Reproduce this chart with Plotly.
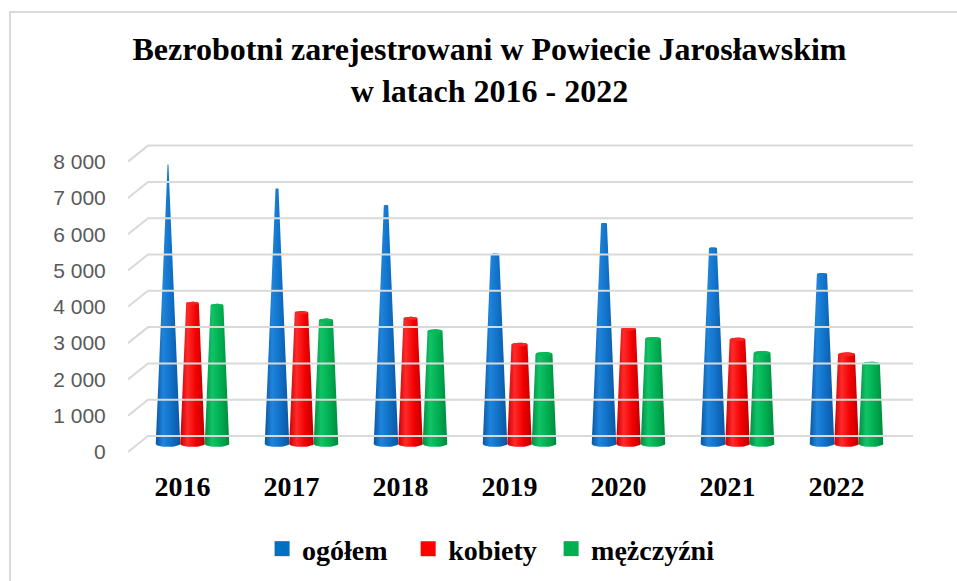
import numpy as np
import plotly.graph_objects as go

# ---------------- data ----------------
years = ["2016", "2017", "2018", "2019", "2020", "2021", "2022"]
ogolem = [7700, 7030, 6570, 5220, 6070, 5390, 4680]
kobiety = [3880, 3620, 3460, 2740, 3170, 2880, 2470]
mezczyzni = [3820, 3410, 3110, 2480, 2900, 2510, 2210]
tick_values = [0, 1000, 2000, 3000, 4000, 5000, 6000, 7000, 8000]
tick_labels = ["0", "1 000", "2 000", "3 000", "4 000", "5 000", "6 000", "7 000", "8 000"]
series_names = ["og\u00f3\u0142em", "kobiety", "m\u0119\u017cczy\u017ani"]

# ---------------- styling ----------------
AXMAX = 8000.0
W = 0.2248                       # bar base width (category units)
X_RANGE = [-0.5917, 6.6101]      # middle-depth frame
Y_RANGE = [-441.0, 8375.0]
DX = 0.0917                      # half depth offset (x, category units)
DY = 220.4                       # half depth offset (y, data units)
RY = 80.0                        # base ellipse half height (data units)

colors = ["#0070C0", "#FF0000", "#00B050"]
grads = [
    [[0, "#0a56a2"], [0.3, "#1f84dc"], [0.6, "#1172c8"], [1, "#0b56a0"]],
    [[0, "#c80000"], [0.3, "#ff2a2a"], [0.65, "#f20000"], [1, "#bc0000"]],
    [[0, "#008c44"], [0.3, "#10c466"], [0.65, "#00ad50"], [1, "#008a40"]],
]
tops = ["#1a78cc", "#ff2424", "#08b858"]
legend_ids = ["legend", "legend2", "legend3"]
legend_x = [0.1708, 0.3569, 0.539]

fig = go.Figure()

# gridlines (back wall + diagonal side) in the front frame (x2, y2)
gx, gy = [], []
x_front_left = X_RANGE[0] + DX
x_back_left = X_RANGE[0] + 3 * DX
x_right = X_RANGE[1] + DX
for v in tick_values:
    gx += [x_front_left, x_back_left, x_right, None]
    gy += [v, v + 2 * DY, v + 2 * DY, None]
fig.add_trace(go.Scatter(x=gx, y=gy, mode="lines", xaxis="x2", yaxis="y2",
                         line=dict(color="#d9d9d9", width=2),
                         hoverinfo="skip", showlegend=False))

t_low = np.linspace(np.pi, 2 * np.pi, 25)
t_up = np.linspace(0, np.pi, 25)
t_full = np.linspace(0, 2 * np.pi, 41)

for s, vals in enumerate([ogolem, kobiety, mezczyzni]):
    for i, v in enumerate(vals):
        c = i + (s - 1) * W
        tw = W * (1 - v / AXMAX)
        ryt = RY * (tw / W) if tw > 0.01 else 0
        xs = list(c + (W / 2) * np.cos(t_low))
        ys = list(RY * np.sin(t_low))
        xs += list(c + (tw / 2) * np.cos(t_up))
        ys += list(v + ryt * np.sin(t_up))
        xs.append(xs[0]); ys.append(ys[0])
        fig.add_trace(go.Scatter(
            x=xs, y=ys, mode="lines", fill="toself",
            line=dict(width=0, color=colors[s]),
            fillcolor=colors[s],
            fillgradient=dict(type="horizontal", colorscale=grads[s],
                              start=c - W / 2, stop=c + W / 2),
            hoverinfo="skip", showlegend=False))
        if tw > 0.02:
            fig.add_trace(go.Scatter(
                x=list(c + (tw / 2) * np.cos(t_full)),
                y=list(v + ryt * np.sin(t_full)),
                mode="lines", fill="toself", line=dict(width=0, color=tops[s]),
                fillcolor=tops[s], hoverinfo="skip", showlegend=False))

# legend entries (one legend per entry, for exact spacing)
for s, name in enumerate(series_names):
    fig.add_trace(go.Scatter(x=[None], y=[None], mode="markers", name=name,
                             legend=legend_ids[s],
                             marker=dict(symbol="square", size=15, color=colors[s])))

legend_font = dict(family="Liberation Serif", size=28, color="black", weight="bold")
legend_common = dict(orientation="h", xanchor="left", y=-0.278, yanchor="middle",
                     font=legend_font, itemwidth=30, bgcolor="rgba(0,0,0,0)")

fig.update_layout(
    width=957, height=581,
    margin=dict(l=128, r=44, t=140, b=121, autoexpand=False),
    paper_bgcolor="white", plot_bgcolor="white",
    title=dict(text="Bezrobotni zarejestrowani w Powiecie Jarosławskim<br>w latach 2016 - 2022",
               x=0.5115, xref="container", xanchor="center",
               y=0.896, yref="container", yanchor="top",
               font=dict(family="Liberation Serif", size=32, color="black", weight="bold")),
    xaxis=dict(range=X_RANGE, showgrid=False, zeroline=False, showticklabels=False,
               showline=False, fixedrange=True),
    yaxis=dict(range=Y_RANGE, showgrid=False, zeroline=False, showticklabels=False,
               showline=False, fixedrange=True),
    xaxis2=dict(range=[X_RANGE[0] + DX, X_RANGE[1] + DX], overlaying="x", anchor="y2",
                side="bottom", tickvals=list(range(len(years))), ticktext=years,
                showgrid=False, zeroline=False, showline=False, fixedrange=True,
                ticks="outside", ticklen=1, tickcolor="rgba(0,0,0,0)",
                tickfont=dict(family="Liberation Serif", size=28, color="black", weight="bold")),
    yaxis2=dict(range=[Y_RANGE[0] + DY, Y_RANGE[1] + DY], overlaying="y", anchor="x2",
                side="left", tickvals=tick_values, ticktext=tick_labels,
                showgrid=False, zeroline=False, showline=False, fixedrange=True,
                ticks="outside", ticklen=17, tickcolor="rgba(0,0,0,0)",
                tickfont=dict(family="Liberation Sans", size=21, color="#595959")),
    legend=dict(x=legend_x[0], **legend_common),
    legend2=dict(x=legend_x[1], **legend_common),
    legend3=dict(x=legend_x[2], **legend_common),
    shapes=[dict(type="rect", xref="paper", yref="paper",
                 x0=(10 - 128) / 785, x1=(962 - 128) / 785,
                 y0=(460 - 590) / 320, y1=(460 - 12) / 320,
                 line=dict(color="#d9d9d9", width=2), layer="below")],
)

fig.write_html("out.html", config={"displayModeBar": False},
               post_script="document.body.style.margin='0px';")
